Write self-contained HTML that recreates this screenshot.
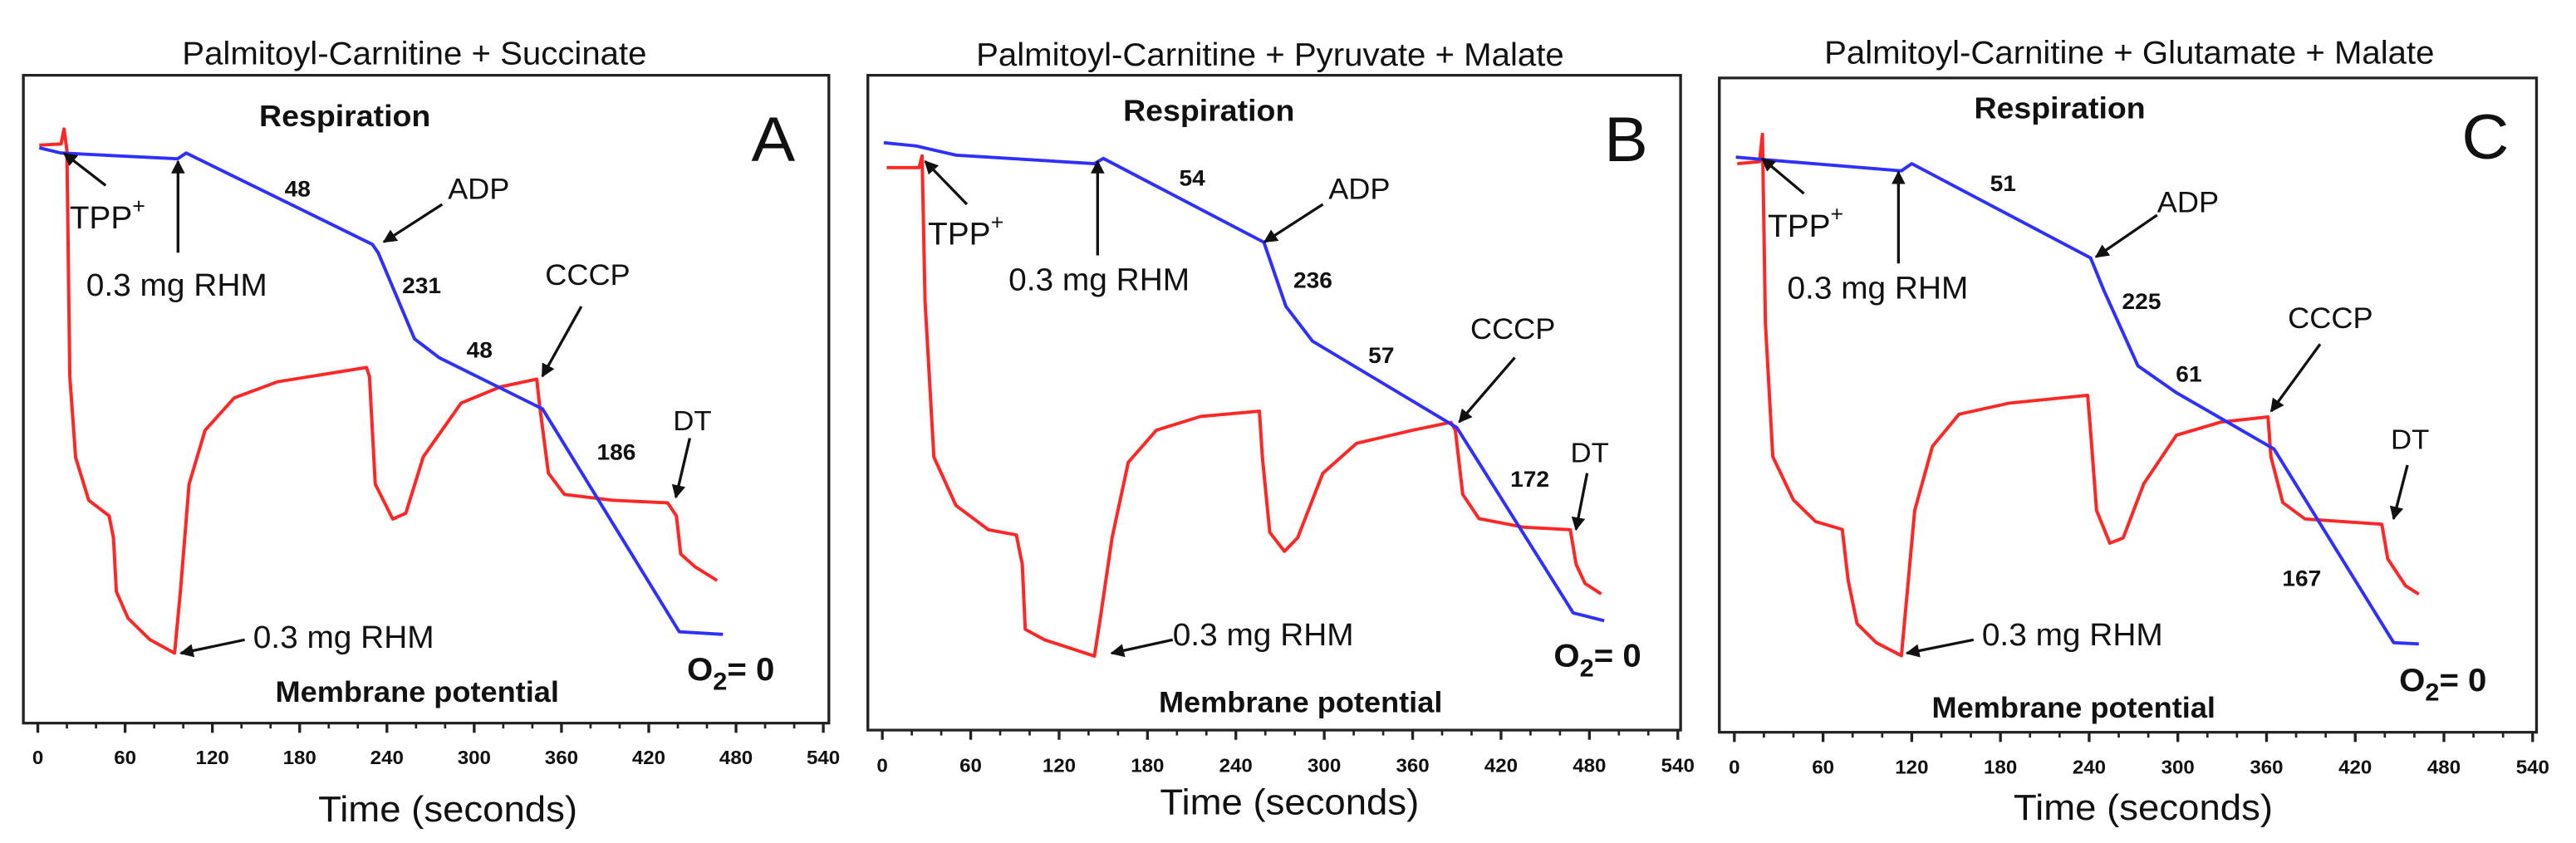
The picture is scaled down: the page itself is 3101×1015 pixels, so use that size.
<!DOCTYPE html>
<html><head><meta charset="utf-8">
<style>
html,body{margin:0;padding:0;background:#fff;}
svg{display:block;font-family:"Liberation Sans",Arial,sans-serif;}
</style></head>
<body>
<svg id="fig" width="3101" height="1015" viewBox="0 0 3101 1015">
<defs>
<marker id="ah" viewBox="0 0 10 10" refX="9" refY="5" markerWidth="5" markerHeight="5" orient="auto-start-reverse">
<path d="M0,0 L10,5 L0,10 z" fill="#111"/>
</marker>
</defs>
</svg>
<script>
// Panel A data (time in s, signal in % of box height)
const aBlueT=[1,16,96,102,230,234,259,276,347,441,471];
const aBlueV=[88.8,88.0,87.1,88.0,73.9,72.6,59.3,56.4,48.5,14.1,13.7];
const aRedT=[1,16,18,20,22,26,35,49,52,54,62,77,94,98,104,115,135,165,226,228,232,244,253,265,291,318,343,345,351,362,395,433,439,442,452,467];
const aRedV=[89.2,89.4,91.7,88.4,53.5,41,34.4,32,28.6,20.3,16.2,12.9,10.8,20.3,36.9,45.2,50.2,52.7,54.9,53.5,36.9,31.5,32.4,41.1,49.4,51.9,53.1,49,38.6,35.3,34.4,34,32,26.1,24.1,22];
// Panel B data
const bBlueT=[1,23,50,144,150,259,274,292,390,469,490];
const bBlueV=[89.7,89.2,87.8,86.5,87.3,74.5,64.7,59.4,46.2,17.9,16.7];
const bRedT=[3,25,27,29,35,50,72,91,95,97,110,144,148,156,167,186,216,256,258,263,273,282,299,322,360,386,389,394,405,435,467,471,477,488];
const bRedV=[85.9,85.9,87.7,65.5,41.7,34.3,30.6,29.8,25.3,15.4,13.8,11.3,17.1,29.4,40.9,45.8,47.9,48.7,41.7,30.2,27.3,29.4,39.2,43.8,45.8,47,45.8,36,32.3,31,30.6,25.3,22.4,20.8];
// Panel C data
const cBlueT=[1,21,113,120,241,250,273,299,365,446,463];
const cBlueV=[87.9,87.5,85.8,86.9,72.5,67.5,56,51.9,43.3,13.7,13.5];
const cRedT=[2,17,19,21,26,40,55,73,77,83,96,113,117,122,134,152,186,239,241,245,254,263,277,299,329,361,363,371,386,438,442,454,463];
const cRedV=[86.9,87.2,91.4,62.6,42.1,35.5,32.2,31,23.2,16.6,13.7,11.7,21.5,33.9,43.7,48.6,50.3,51.5,46,33.9,28.9,29.7,38,45.4,47.4,48.2,42.1,35.1,32.6,31.8,26.5,22.4,21.1];
const tickVals=[0,60,120,180,240,300,360,420,480,540];

const NS="http://www.w3.org/2000/svg";
const SX=1.4933, SY=1.5448;
const fig=document.getElementById('fig');
function mk(tag,attrs,parent){const e=document.createElementNS(NS,tag);for(const k in attrs)e.setAttribute(k,attrs[k]);parent.appendChild(e);return e;}
function txt(parent,x,y,s,size,weight,anchor,name){const t=mk('text',{x:x,y:y,'font-size':size,'font-weight':weight,'text-anchor':anchor||'start',fill:'#111'},parent);t.textContent=s;


return t;}
function arrow(parent,x1,y1,x2,y2,name){const l=mk('line',{x1:x1,y1:y1,x2:x2,y2:y2,stroke:'#111','stroke-width':5,'marker-end':'url(#ah)'},parent);

}

const panels=[
 {id:'a',ox:0,box:[42,140,1490,1345],x0:68,x1:1480,tickY:1421,timeX:805,timeY:1528,title:'Palmitoyl-Carnitine + Succinate',titleX:745,titleY:120,
  blueT:aBlueT,blueV:aBlueV,redT:aRedT,redV:aRedV,letter:'A',letterX:1390,letterY:300,
  resp:[620,235],tpp:[125,425],tppArr:[190,345,115,285],up:[320,470,320,300],rhm1:[155,550],
  r1:['48',535,365],adp:[805,370],adpArr:[795,380,690,450],r2:['231',758,545],r3:['48',862,665],
  cccp:[980,530],cccpArr:[1045,570,975,700],r4:['186',1108,855],dt:[1210,800],dtArr:[1240,815,1215,925],
  rhm2:[455,1205],rhm2Arr:[440,1190,325,1215],mem:[495,1305],o2:[1235,1265]},
 {id:'b',ox:1030,box:[22,140,1483,1358],x0:48,x1:1478,tickY:1436,timeX:780,timeY:1515,title:'Palmitoyl-Carnitine  + Pyruvate + Malate',titleX:745,titleY:122,
  blueT:bBlueT,blueV:bBlueV,redT:bRedT,redV:bRedV,letter:'B',letterX:1385,letterY:300,
  resp:[635,225],tpp:[130,455],tppArr:[200,380,125,300],up:[435,475,435,300],rhm1:[275,540],
  r1:['54',605,345],adp:[850,370],adpArr:[840,380,735,450],r2:['236',822,535],r3:['57',945,675],
  cccp:[1105,630],cccpArr:[1185,665,1085,785],r4:['172',1212,905],dt:[1285,860],dtArr:[1315,880,1295,985],
  rhm2:[570,1200],rhm2Arr:[570,1190,460,1215],mem:[545,1325],o2:[1255,1240]},
 {id:'c',ox:2051,box:[28,145,1497,1362],x0:55,x1:1490,tickY:1439,timeX:790,timeY:1525,title:'Palmitoyl-Carnitine  + Glutamate + Malate',titleX:765,titleY:118,
  blueT:cBlueT,blueV:cBlueV,redT:cRedT,redV:cRedV,letter:'C',letterX:1405,letterY:295,
  resp:[640,220],tpp:[115,440],tppArr:[180,360,105,295],up:[350,490,350,320],rhm1:[150,555],
  r1:['51',538,355],adp:[815,395],adpArr:[815,400,705,478],r2:['225',787,575],r3:['61',872,710],
  cccp:[1050,610],cccpArr:[1108,640,1020,765],r4:['167',1075,1090],dt:[1235,835],dtArr:[1265,865,1240,965],
  rhm2:[500,1200],rhm2Arr:[485,1190,365,1215],mem:[410,1335],o2:[1250,1285]}
];

panels.forEach(p=>{
  const g=mk('g',{transform:'translate('+p.ox+',0) scale('+(1/SX)+','+(1/SY)+')'},fig);
  
  
  const [bl,bt,br,bb]=p.box;
  const xs=t=>p.x0+(p.x1-p.x0)*t/540;
  const ys=v=>bb-(bb-bt)*v/100;
  txt(g,p.titleX,p.titleY,p.title,60,'normal','middle','panel-title');
  const box=mk('rect',{x:bl,y:bt,width:br-bl,height:bb-bt,fill:'none',stroke:'#222','stroke-width':5},g);
  
  
  for(let t=0;t<=540;t+=20){
    const major=t%60===0;
    const tk=mk('line',{x1:xs(t),x2:xs(t),y1:bb,y2:bb+(major?18:10),stroke:'#222','stroke-width':major?5:4},g);
    
    
  }
  tickVals.forEach(v=>{txt(g,xs(v),p.tickY,String(v),36,'bold','middle','x-tick-label');});
  txt(g,p.timeX,p.timeY,'Time (seconds)',68,'normal','middle','x-axis-title');
  function series(T,V,color,name){
    let d='';T.forEach((t,i)=>{d+=(i?'L':'M')+xs(t).toFixed(1)+','+ys(V[i]).toFixed(1);});
    const path=mk('path',{d:d,fill:'none',stroke:color,'stroke-width':6,'stroke-linejoin':'round'},g);
    
    
  }
  series(p.redT,p.redV,'#ff2626','membrane-potential-line');
  series(p.blueT,p.blueV,'#2f2fff','respiration-line');
  txt(g,p.resp[0],p.resp[1],'Respiration',56,'bold','middle','respiration-label');
  txt(g,p.letterX,p.letterY,p.letter,118,'normal','middle','panel-letter');
  const tp=txt(g,p.tpp[0],p.tpp[1],'TPP',58,'normal','start','tpp-label');
  const sup=mk('tspan',{dy:-28,'font-size':40},tp);sup.textContent='+';
  arrow(g,...p.tppArr,'tpp-arrow');
  arrow(g,...p.up,'rhm-arrow-respiration');
  txt(g,p.rhm1[0],p.rhm1[1],'0.3 mg RHM',58,'normal','start','rhm-label-respiration');
  txt(g,p.r1[1],p.r1[2],p.r1[0],42,'bold','middle','rate-label');
  txt(g,p.adp[0],p.adp[1],'ADP',54,'normal','start','adp-label');
  arrow(g,...p.adpArr,'adp-arrow');
  txt(g,p.r2[1],p.r2[2],p.r2[0],42,'bold','middle','rate-label');
  txt(g,p.r3[1],p.r3[2],p.r3[0],42,'bold','middle','rate-label');
  txt(g,p.cccp[0],p.cccp[1],'CCCP',54,'normal','start','cccp-label');
  arrow(g,...p.cccpArr,'cccp-arrow');
  txt(g,p.r4[1],p.r4[2],p.r4[0],42,'bold','middle','rate-label');
  txt(g,p.dt[0],p.dt[1],'DT',52,'normal','start','dt-label');
  arrow(g,...p.dtArr,'dt-arrow');
  txt(g,p.rhm2[0],p.rhm2[1],'0.3 mg RHM',58,'normal','start','rhm-label-potential');
  arrow(g,...p.rhm2Arr,'rhm-arrow-potential');
  txt(g,p.mem[0],p.mem[1],'Membrane potential',54,'bold','start','membrane-potential-label');
  const o=txt(g,p.o2[0],p.o2[1],'O',60,'bold','start','o2-zero-label');
  const sub=mk('tspan',{dy:18,'font-size':46},o);sub.textContent='2';
  const rest=mk('tspan',{dy:-18,'font-size':60},o);rest.textContent='= 0';
});
</script>
</body></html>
